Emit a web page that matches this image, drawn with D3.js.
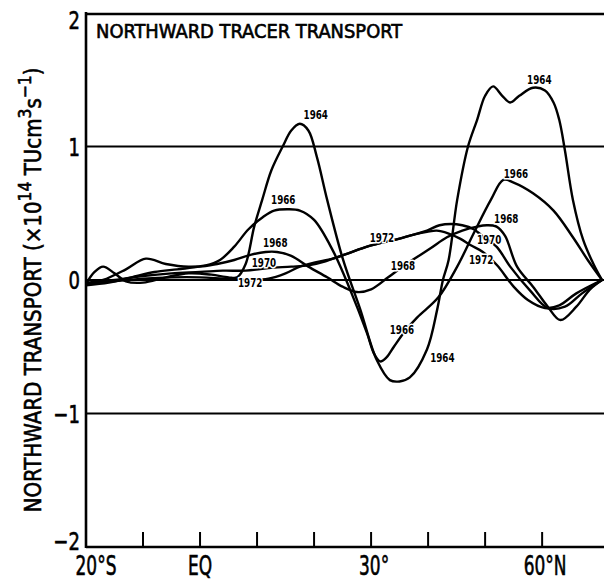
<!DOCTYPE html>
<html>
<head>
<meta charset="utf-8">
<script src="https://cdn.jsdelivr.net/npm/d3@7/dist/d3.min.js"></script>
<style>
  html, body { margin: 0; padding: 0; background: #fff; }
  svg { display: block; }
  text { font-family: "DejaVu Sans Condensed", "DejaVu Sans", sans-serif; font-stretch: condensed; fill: #000; }
</style>
</head>
<body>
<svg id="chart" width="604" height="581"></svg>
<script>
// Northward tracer transport (x10^14 TU cm^3 s^-1) against latitude, one curve per survey year.
const years = ["1964", "1966", "1968", "1970", "1972"];

const lat1964 = [-20, -18.5, -17, -15, -13, -10, -6, -2, 2, 5, 6.5, 8, 9.5, 10.9, 12.5, 14.5, 16, 17.5, 19, 20.5, 22.3, 25.1, 28.1, 31, 33.3, 35, 36.8, 39.8, 41.6, 42.6, 43.6, 45.1, 47, 48.6, 50, 51.4, 53, 54.4, 56, 58.4, 60.5, 62, 63, 64, 65.4, 67.2, 69, 70.5];
const val1964 = [-0.03, 0.06, 0.1, 0.05, -0.01, -0.02, 0.02, 0.05, 0.04, 0.02, 0.02, 0.12, 0.4, 0.6, 0.82, 1.0, 1.12, 1.17, 1.12, 0.92, 0.6, 0.15, -0.22, -0.6, -0.75, -0.76, -0.73, -0.52, -0.22, 0.0, 0.15, 0.6, 1.0, 1.2, 1.38, 1.45, 1.38, 1.33, 1.38, 1.44, 1.42, 1.33, 1.2, 0.97, 0.6, 0.3, 0.12, 0];

const lat1966 = [-20, -17, -13, -9.5, -6, -2, 1, 3.5, 6, 8.5, 11, 13, 15.5, 17.5, 20, 23.3, 26.3, 29.3, 30.5, 31.6, 32.7, 34, 36, 38.1, 41.8, 45.1, 48, 51, 53.2, 55, 58.4, 62, 65.4, 68, 70.5];
const val1966 = [-0.03, 0.0, 0.08, 0.16, 0.12, 0.1, 0.11, 0.15, 0.25, 0.38, 0.47, 0.52, 0.53, 0.52, 0.45, 0.22, -0.07, -0.4, -0.55, -0.61, -0.58, -0.5, -0.38, -0.28, -0.13, 0.1, 0.35, 0.6, 0.75, 0.73, 0.65, 0.52, 0.32, 0.15, 0];

const lat1968 = [-20, -16, -12, -8, -4, 0, 3, 6, 9, 11.5, 13.5, 16, 19, 22.3, 25, 27.5, 30, 33, 35.5, 38, 40.5, 43.3, 46, 48.6, 50.3, 52, 53.5, 55.6, 58.4, 61, 63.2, 66, 68.4, 70.5];
const val1968 = [-0.04, -0.02, 0.02, 0.06, 0.08, 0.1, 0.12, 0.15, 0.19, 0.21, 0.21, 0.18, 0.1, 0.02, -0.05, -0.09, -0.07, 0.02, 0.1, 0.17, 0.24, 0.32, 0.37, 0.4, 0.41, 0.4, 0.33, 0.1, -0.05, -0.2, -0.3, -0.2, -0.07, 0];

const lat1970 = [-20, -15, -10, -5, 0, 4, 8, 12, 16, 19, 22, 23.3, 26, 29.3, 32, 35, 37.5, 39.8, 42, 44, 46, 48, 49.5, 52, 54.4, 57.9, 61, 64, 67, 70.5];
const val1970 = [-0.02, 0.0, 0.03, 0.05, 0.06, 0.07, 0.07, 0.09, 0.1, 0.11, 0.14, 0.16, 0.2, 0.25, 0.28, 0.31, 0.34, 0.37, 0.41, 0.42, 0.41, 0.38, 0.33, 0.25, 0.1, -0.08, -0.21, -0.2, -0.1, 0];

const lat1972 = [-20, -15, -10, -5, 0, 4, 8, 12, 15, 17.5, 20, 23.3, 26, 29.3, 32, 35, 37.5, 39.8, 41.5, 43.5, 45.6, 47.5, 49.6, 52.1, 55, 57.5, 60.5, 63, 66, 70.5];
const val1972 = [-0.03, -0.01, 0.01, 0.02, 0.02, 0.01, 0.0, 0.01, 0.05, 0.1, 0.13, 0.16, 0.2, 0.25, 0.28, 0.31, 0.34, 0.36, 0.37, 0.35, 0.31, 0.26, 0.21, 0.11, -0.05, -0.15, -0.21, -0.19, -0.1, 0];

// Curve annotations anchored in data space (latitude, transport)
const labelYears = ["1964", "1964", "1964", "1966", "1966", "1966", "1968", "1968", "1968", "1970", "1970", "1972", "1972", "1972"];
const labelLat   = [20.3, 59.5, 42.5, 14.6, 35.4, 55.4, 13.2, 35.6, 53.7, 11.2, 50.7, 8.8, 31.9, 49.3];
const labelVal   = [1.24, 1.5, -0.58, 0.6, -0.37, 0.8, 0.28, 0.11, 0.46, 0.13, 0.3, -0.02, 0.32, 0.15];

// Axis ticks and labels
const yTicks = [2, 1, 0, -1, -2];
const yTickText = ["2", "1", "0", "\u22121", "\u22122"];
const xTicks = [-10, 0, 10, 20, 30, 40, 50, 60];
const xLabelLat = [-20, 0, 30, 60];
const xLabelText = ["20\u00b0S", "EQ", "30\u00b0", "60\u00b0N"];

const series = [
  { year: "1964", lat: lat1964, val: val1964 },
  { year: "1966", lat: lat1966, val: val1966 },
  { year: "1968", lat: lat1968, val: val1968 },
  { year: "1970", lat: lat1970, val: val1970 },
  { year: "1972", lat: lat1972, val: val1972 }
];

const W = 604, H = 581;
const svg = d3.select("#chart");
svg.append("rect").attr("width", W).attr("height", H).attr("fill", "#fff");

const x = d3.scaleLinear().domain([-20, 70.5]).range([86, 602]);
const y = d3.scaleLinear().domain([-2, 2]).range([547, 13]);
const xEnd = W;

// Text helper: draws text at (px,py) squeezed horizontally by factor sx, slightly emboldened
function squeezed(g, str, px, py, size, sx, anchor, weight, thick) {
  return g.append("text")
    .attr("transform", `translate(${px},${py}) scale(${sx},1)`)
    .attr("text-anchor", anchor || "start")
    .attr("font-size", size)
    .attr("font-weight", weight || "normal")
    .attr("stroke", "#000")
    .attr("stroke-width", thick == null ? 0.6 : thick)
    .text(str);
}

// Frame: left axis, top border, bottom axis
const frame = svg.append("g").attr("stroke", "#000").attr("fill", "none");
frame.append("line").attr("x1", x(-20)).attr("x2", x(-20)).attr("y1", y(2) - 1).attr("y2", y(-2) + 1).attr("stroke-width", 2.6);
frame.append("line").attr("x1", x(-20)).attr("x2", xEnd).attr("y1", y(2) + 1).attr("y2", y(2) + 1).attr("stroke-width", 2.4);
frame.append("line").attr("x1", x(-20)).attr("x2", xEnd).attr("y1", y(-2)).attr("y2", y(-2)).attr("stroke-width", 2.6);

// Horizontal reference lines at the inner y ticks
frame.selectAll("line.grid").data(yTicks.filter(v => v !== 2 && v !== -2)).join("line")
  .attr("class", "grid")
  .attr("x1", x(-20)).attr("x2", xEnd)
  .attr("y1", d => y(d)).attr("y2", d => y(d))
  .attr("stroke-width", 2);

// Inward x ticks
frame.selectAll("line.xt").data(xTicks).join("line")
  .attr("class", "xt")
  .attr("x1", d => x(d)).attr("x2", d => x(d))
  .attr("y1", y(-2)).attr("y2", y(-2) - 15)
  .attr("stroke-width", 2);

// Y tick labels
const yl = svg.append("g");
yTicks.forEach((v, i) => {
  const off = v === 2 ? 7 : v === -2 ? -6 : 0;
  squeezed(yl, yTickText[i], 80, y(v) + off + 9, 25, 0.8, "end");
});

// X tick labels
const xl = svg.append("g");
xLabelLat.forEach((v, i) => {
  const off = v === -20 ? 10 : v === 30 ? 3 : v === 60 ? 3 : 0;
  squeezed(xl, xLabelText[i], x(v) + off, 575, 27, 0.7, "middle");
});

// Title
squeezed(svg, "NORTHWARD TRACER TRANSPORT", 96, 38, 19.5, 1.02, "start");

// Y axis title with superscripts
const yt = svg.append("text")
  .attr("transform", "translate(41,290) rotate(-90) scale(0.96,1)")
  .attr("text-anchor", "middle")
  .attr("font-size", 23)
  .attr("stroke", "#000")
  .attr("stroke-width", 0.6);
yt.append("tspan").text("NORTHWARD TRANSPORT  (\u00d710");
yt.append("tspan").attr("dy", -10).attr("font-size", 18).text("14");
yt.append("tspan").attr("dy", 10).text(" TUcm");
yt.append("tspan").attr("dy", -10).attr("font-size", 18).text("3");
yt.append("tspan").attr("dy", 10).text("s");
yt.append("tspan").attr("dy", -10).attr("font-size", 18).text("\u22121");
yt.append("tspan").attr("dy", 10).text(")");

// Curves
const line = d3.line()
  .x(d => x(d[0]))
  .y(d => y(d[1]))
  .curve(d3.curveCatmullRom.alpha(0.5));

svg.append("g").selectAll("path").data(series).join("path")
  .attr("d", s => line(s.lat.map((l, i) => [l, s.val[i]])))
  .attr("fill", "none")
  .attr("stroke", "#000")
  .attr("stroke-width", 2.4)
  .attr("stroke-linejoin", "round");

// Curve labels with a white halo so they break the lines beneath them
const lab = svg.append("g");
labelYears.forEach((yr, i) => {
  squeezed(lab, yr, x(labelLat[i]), y(labelVal[i]) + 4.5, 12.5, 0.78, "middle", "bold", 0)
    .attr("stroke", "#fff").attr("stroke-width", 3).attr("paint-order", "stroke");
});
</script>
</body>
</html>
